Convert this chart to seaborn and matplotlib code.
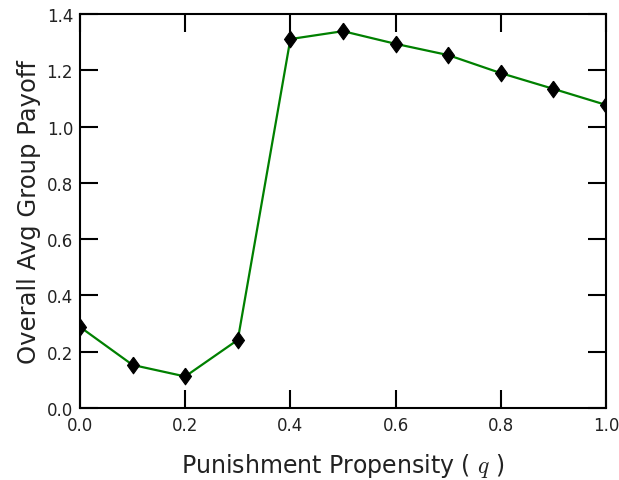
import matplotlib
matplotlib.use("Agg")
import matplotlib.pyplot as plt
import seaborn as sns
import pandas as pd

q_values = [0.0, 0.1, 0.2, 0.3, 0.4, 0.5, 0.6, 0.7, 0.8, 0.9, 1.0]
payoff = [0.288, 0.153, 0.112, 0.242, 1.311, 1.339, 1.294, 1.254, 1.190, 1.134, 1.077]
x_ticks = [0.0, 0.2, 0.4, 0.6, 0.8, 1.0]
y_ticks = [0.0, 0.2, 0.4, 0.6, 0.8, 1.0, 1.2, 1.4]

sns.set_style("white")
plt.rcParams['font.family'] = ['DejaVu Sans']
plt.rcParams['mathtext.fontset'] = 'cm'

df = pd.DataFrame({"q": q_values, "payoff": payoff})

fig = plt.figure(figsize=(6.19, 4.81), dpi=100)
ax = fig.add_axes([0.1292, 0.1497, 0.8498, 0.8191])

diamond = [(0, 1), (0.72, 0), (0, -1), (-0.72, 0), (0, 1)]
sns.lineplot(data=df, x="q", y="payoff", ax=ax, color="green", linewidth=1.6,
             marker=diamond, markersize=12, markerfacecolor="black",
             markeredgecolor="black", markeredgewidth=0.8)

ax.set_xlim(0, 1.0)
ax.set_ylim(0, 1.4)
ax.set_xticks(x_ticks)
ax.set_yticks(y_ticks)
ax.set_xticklabels([f"{v:.1f}" for v in x_ticks])
ax.set_yticklabels([f"{v:.1f}" for v in y_ticks])

ax.tick_params(direction="in", length=13, width=1.5, top=True, right=True,
               bottom=True, left=True,
               labelsize=12, labelcolor="#222222", colors="black")
ax.tick_params(axis="x", pad=6)
ax.tick_params(axis="y", pad=5)
for s in ax.spines.values():
    s.set_visible(True)
    s.set_linewidth(1.5)
    s.set_color("black")

ax.set_xlabel("Punishment Propensity ( $q$ )", fontsize=17, labelpad=12, color="#222222")
ax.set_ylabel("Overall Avg Group Payoff", fontsize=17.5, labelpad=4, color="#222222")

fig.savefig("out.png", dpi=100)
